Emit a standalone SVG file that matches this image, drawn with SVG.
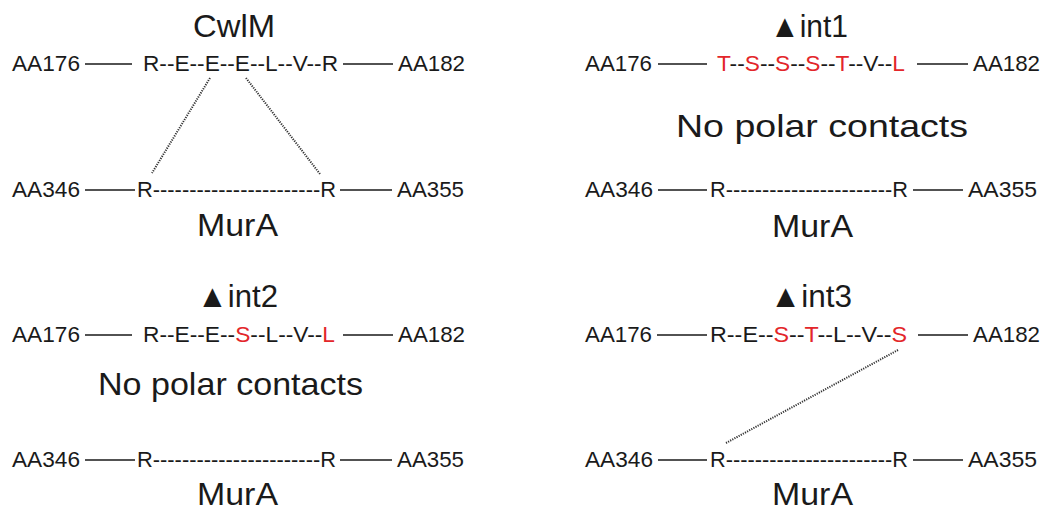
<svg xmlns="http://www.w3.org/2000/svg" width="1046" height="510" viewBox="0 0 1046 510">
<style>
text{font-family:"Liberation Sans",Arial,sans-serif;fill:#1a1a1a}
.t{font-size:32px}
.s{font-size:22px}
.r{fill:#e3262a}
.ln{stroke:#1a1a1a;stroke-width:1.5;fill:none}
.dot{stroke:#333;stroke-width:2;stroke-dasharray:1.2 1.2;fill:none}
</style>
<rect width="1046" height="510" fill="#fff"/>
<g id="panel-cwlm">
<text class="t" x="193" y="37" textLength="82" lengthAdjust="spacingAndGlyphs">CwlM</text>
<text class="s" x="12" y="71" textLength="68" lengthAdjust="spacingAndGlyphs">AA176</text>
<text class="s" x="143" y="71" textLength="195" lengthAdjust="spacingAndGlyphs">R--E--E--E--L--V--R</text>
<text class="s" x="398" y="71" textLength="67" lengthAdjust="spacingAndGlyphs">AA182</text>
<text class="s" x="12" y="197" textLength="68" lengthAdjust="spacingAndGlyphs">AA346</text>
<text class="s" x="137" y="197" textLength="199" lengthAdjust="spacingAndGlyphs">R-----------------------R</text>
<text class="s" x="397" y="197" textLength="67" lengthAdjust="spacingAndGlyphs">AA355</text>
<text class="t" x="197" y="236" textLength="81" lengthAdjust="spacingAndGlyphs">MurA</text>
</g>
<g id="panel-int1">
<text class="t" x="770" y="37" textLength="78" lengthAdjust="spacingAndGlyphs">▲int1</text>
<text class="s" x="585" y="71" textLength="67" lengthAdjust="spacingAndGlyphs">AA176</text>
<text class="s" x="717" y="71" textLength="188" lengthAdjust="spacingAndGlyphs"><tspan class="r">T</tspan>--<tspan class="r">S</tspan>--<tspan class="r">S</tspan>--<tspan class="r">S</tspan>--<tspan class="r">T</tspan>--V--<tspan class="r">L</tspan></text>
<text class="s" x="973" y="71" textLength="67" lengthAdjust="spacingAndGlyphs">AA182</text>
<text class="t" x="676" y="137" textLength="292" lengthAdjust="spacingAndGlyphs">No polar contacts</text>
<text class="s" x="585" y="197" textLength="68" lengthAdjust="spacingAndGlyphs">AA346</text>
<text class="s" x="710" y="197" textLength="198" lengthAdjust="spacingAndGlyphs">R-----------------------R</text>
<text class="s" x="968" y="197" textLength="69" lengthAdjust="spacingAndGlyphs">AA355</text>
<text class="t" x="772" y="237" textLength="81" lengthAdjust="spacingAndGlyphs">MurA</text>
</g>
<g id="panel-int2">
<text class="t" x="197" y="307" textLength="81" lengthAdjust="spacingAndGlyphs">▲int2</text>
<text class="s" x="12" y="342" textLength="68" lengthAdjust="spacingAndGlyphs">AA176</text>
<text class="s" x="143" y="342" textLength="192" lengthAdjust="spacingAndGlyphs">R--E--E--<tspan class="r">S</tspan>--L--V--<tspan class="r">L</tspan></text>
<text class="s" x="398" y="342" textLength="67" lengthAdjust="spacingAndGlyphs">AA182</text>
<text class="t" x="98" y="395" textLength="265" lengthAdjust="spacingAndGlyphs">No polar contacts</text>
<text class="s" x="12" y="467" textLength="68" lengthAdjust="spacingAndGlyphs">AA346</text>
<text class="s" x="137" y="467" textLength="199" lengthAdjust="spacingAndGlyphs">R-----------------------R</text>
<text class="s" x="397" y="467" textLength="67" lengthAdjust="spacingAndGlyphs">AA355</text>
<text class="t" x="197" y="505" textLength="81" lengthAdjust="spacingAndGlyphs">MurA</text>
</g>
<g id="panel-int3">
<text class="t" x="770" y="307" textLength="82" lengthAdjust="spacingAndGlyphs">▲int3</text>
<text class="s" x="585" y="342" textLength="67" lengthAdjust="spacingAndGlyphs">AA176</text>
<text class="s" x="710" y="342" textLength="197" lengthAdjust="spacingAndGlyphs">R--E--<tspan class="r">S</tspan>--<tspan class="r">T</tspan>--L--V--<tspan class="r">S</tspan></text>
<text class="s" x="973" y="342" textLength="67" lengthAdjust="spacingAndGlyphs">AA182</text>
<text class="s" x="585" y="467" textLength="68" lengthAdjust="spacingAndGlyphs">AA346</text>
<text class="s" x="710" y="467" textLength="198" lengthAdjust="spacingAndGlyphs">R-----------------------R</text>
<text class="s" x="968" y="467" textLength="69" lengthAdjust="spacingAndGlyphs">AA355</text>
<text class="t" x="772" y="505" textLength="81" lengthAdjust="spacingAndGlyphs">MurA</text>
</g>
<g id="connectors">
<path class="ln" d="M85 64H132M343 64H393M85 190H135M340 190H392"/>
<path class="ln" d="M658 64H707M917 64H968M658 190H707M913 190H963"/>
<path class="ln" d="M85 335H132M343 335H393M85 460H135M340 460H392"/>
<path class="ln" d="M657 335H707M918 335H968M658 460H707M913 460H963"/>
<path class="dot" d="M210 78L152 173M246 78L320 174"/>
<path class="dot" d="M898 350L726 443"/>
</g>
</svg>
